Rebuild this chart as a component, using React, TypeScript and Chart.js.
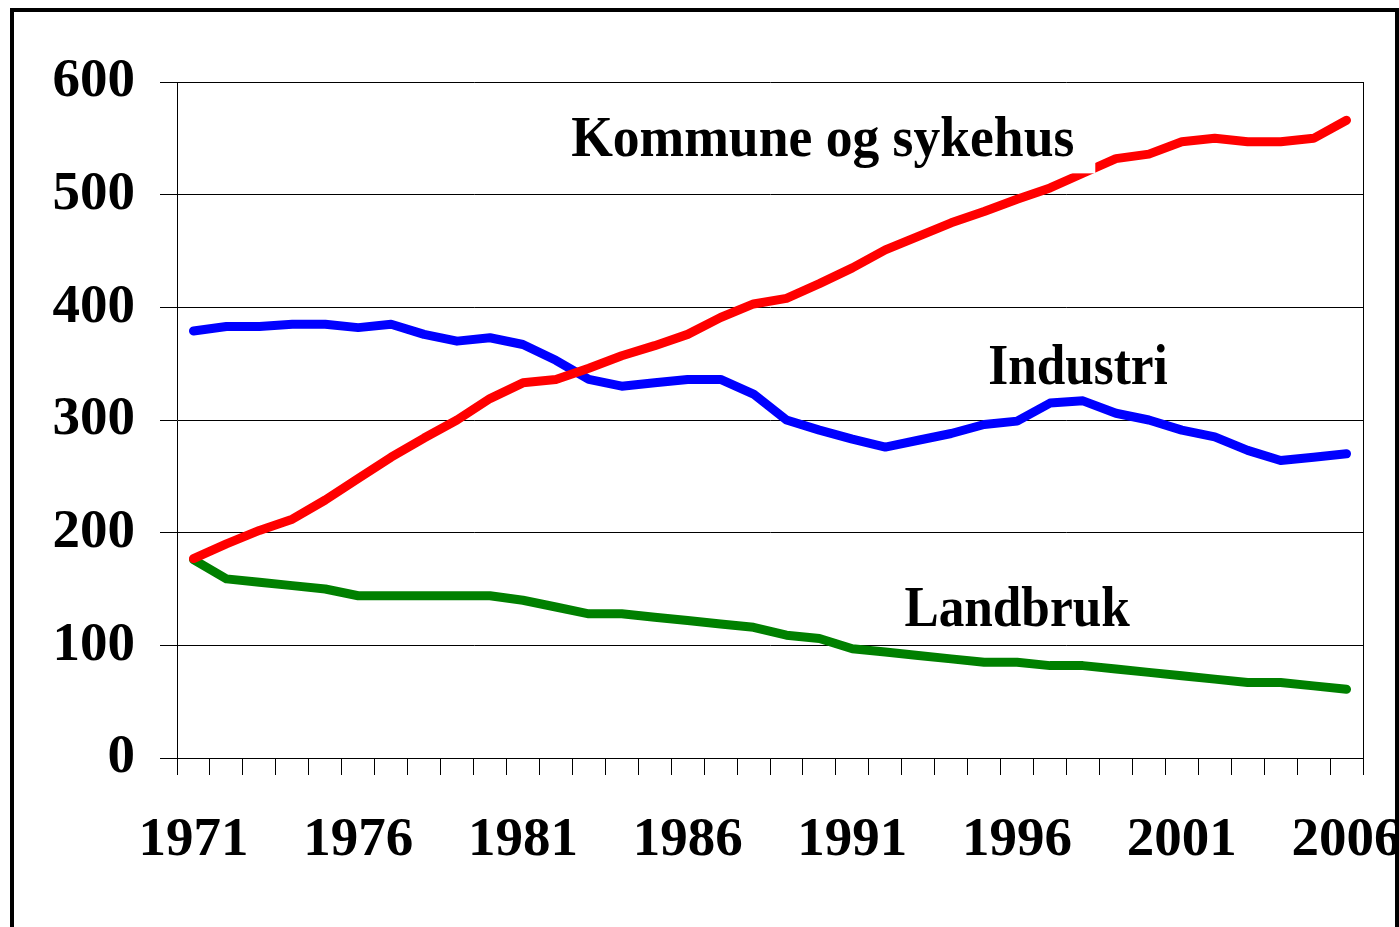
import React, { useEffect, useRef } from "react";
import { Chart, registerables } from "chart.js";

Chart.register(...registerables);

const years = [
  "1971", "1972", "1973", "1974", "1975", "1976", "1977", "1978", "1979", "1980",
  "1981", "1982", "1983", "1984", "1985", "1986", "1987", "1988", "1989", "1990",
  "1991", "1992", "1993", "1994", "1995", "1996", "1997", "1998", "1999", "2000",
  "2001", "2002", "2003", "2004", "2005", "2006",
];

const kommune = [
  177, 190, 202, 212, 229, 248, 267, 284, 300, 319,
  333, 336, 346, 357, 366, 376, 391, 403, 408, 421,
  435, 451, 463, 475, 485, 496, 506, 519, 532, 536,
  547, 550, 547, 547, 550, 566,
];

const industri = [
  379, 383, 383, 385, 385, 382, 385, 376, 370, 373,
  367, 353, 336, 330, 333, 336, 336, 323, 300, 291,
  283, 276, 282, 288, 296, 299, 315, 317, 306, 300,
  291, 285, 273, 264, 267, 270,
];

const landbruk = [
  176, 159, 156, 153, 150, 144, 144, 144, 144, 144,
  140, 134, 128, 128, 125, 122, 119, 116, 109, 106,
  97, 94, 91, 88, 85, 85, 82, 82, 79, 76,
  73, 70, 67, 67, 64, 61,
];

const seriesNames = ["Kommune og sykehus", "Industri", "Landbruk"];
const seriesColors = ["#FF0000", "#0000FF", "#008000"];
// label anchors in data units (category index, value)
const labelIndex = [19.1, 26.85, 25.0];
const labelValue = [534, 332, 117];
const labelBoxed = [true, false, false];
const labelStretch = [0.94, 0.9, 0.9];

const yMin = 0;
const yMax = 600;
const yStep = 100;

const CANVAS_W = 1500;
const CANVAS_H = 927;
const FONT = '"Liberation Serif", "Times New Roman", serif';

const labelPlugin = {
  id: "seriesLabels",
  afterDatasetsDraw(chart: any) {
    const { ctx, scales } = chart;
    const x = scales.x;
    const y = scales.y;
    ctx.save();
    ctx.font = `bold 57px ${FONT}`;
    seriesNames.forEach((t, i) => {
      const sx = labelStretch[i];
      const px = x.getPixelForValue(labelIndex[i]);
      const py = y.getPixelForValue(labelValue[i]);
      const w = ctx.measureText(t).width * sx;
      if (labelBoxed[i]) {
        ctx.fillStyle = "#ffffff";
        ctx.fillRect(px - w / 2 - 21, py - 58, w + 42, 75);
      }
      ctx.save();
      ctx.translate(px, py);
      ctx.scale(sx, 1);
      ctx.fillStyle = "#000000";
      ctx.textAlign = "center";
      ctx.textBaseline = "alphabetic";
      ctx.fillText(t, 0, 0);
      ctx.restore();
    });
    ctx.restore();
  },
  afterDraw(chart: any) {
    const { ctx, chartArea } = chart;
    ctx.save();
    ctx.strokeStyle = "#000000";
    ctx.lineWidth = 1;
    ctx.beginPath();
    ctx.moveTo(Math.round(chartArea.right) + 0.5, chartArea.top);
    ctx.lineTo(Math.round(chartArea.right) + 0.5, chartArea.bottom);
    ctx.stroke();
    ctx.restore();
  },
};

export default function App() {
  const canvasRef = useRef<HTMLCanvasElement | null>(null);

  useEffect(() => {
    const canvas = canvasRef.current;
    if (!canvas) return;
    const tickFont = { family: FONT, size: 55, weight: "bold" as const };
    const chart = new Chart(canvas, {
      type: "line",
      data: {
        labels: years,
        datasets: [
          { label: seriesNames[0], data: kommune, borderColor: seriesColors[0], backgroundColor: seriesColors[0] },
          { label: seriesNames[1], data: industri, borderColor: seriesColors[1], backgroundColor: seriesColors[1] },
          { label: seriesNames[2], data: landbruk, borderColor: seriesColors[2], backgroundColor: seriesColors[2] },
        ],
      },
      options: {
        responsive: false,
        animation: false,
        devicePixelRatio: 1,
        layout: { padding: { top: 82, left: 0, right: CANVAS_W - 1363, bottom: 0 } },
        plugins: { legend: { display: false }, tooltip: { enabled: false }, title: { display: false } },
        elements: {
          point: { radius: 0, hoverRadius: 0 },
          line: { tension: 0, borderWidth: 9, borderCapStyle: "round", borderJoinStyle: "round", fill: false },
        },
        scales: {
          x: {
            type: "category",
            offset: true,
            grid: { offset: true, drawOnChartArea: false, drawTicks: true, tickLength: 17, color: "#000", lineWidth: 1 },
            border: { display: true, color: "#000", width: 1 },
            ticks: {
              autoSkip: false,
              maxRotation: 0,
              minRotation: 0,
              padding: 33,
              color: "#000",
              font: tickFont,
              callback: (_v: any, i: number) => (i % 5 === 0 ? years[i] : ""),
            },
            afterFit: (s: any) => {
              s.height = CANVAS_H - 758;
            },
          },
          y: {
            min: yMin,
            max: yMax,
            ticks: { stepSize: yStep, padding: 25, color: "#000", font: tickFont },
            grid: { color: "#000", lineWidth: 1, tickLength: 17 },
            border: { display: true, color: "#000", width: 1 },
            afterFit: (s: any) => {
              s.width = 177;
            },
          },
        },
      },
      plugins: [labelPlugin],
    });
    return () => chart.destroy();
  }, []);

  return (
    <div
      style={{
        position: "fixed",
        left: 0,
        top: 0,
        width: 1399,
        height: 927,
        overflow: "hidden",
        background: "#fff",
      }}
    >
      <canvas
        ref={canvasRef}
        width={CANVAS_W}
        height={CANVAS_H}
        style={{ display: "block", width: CANVAS_W, height: CANVAS_H }}
      />
      <div
        style={{
          position: "absolute",
          left: 10,
          top: 8,
          width: 1389,
          height: 1000,
          boxSizing: "border-box",
          border: "4px solid #000",
          pointerEvents: "none",
        }}
      />
    </div>
  );
}
